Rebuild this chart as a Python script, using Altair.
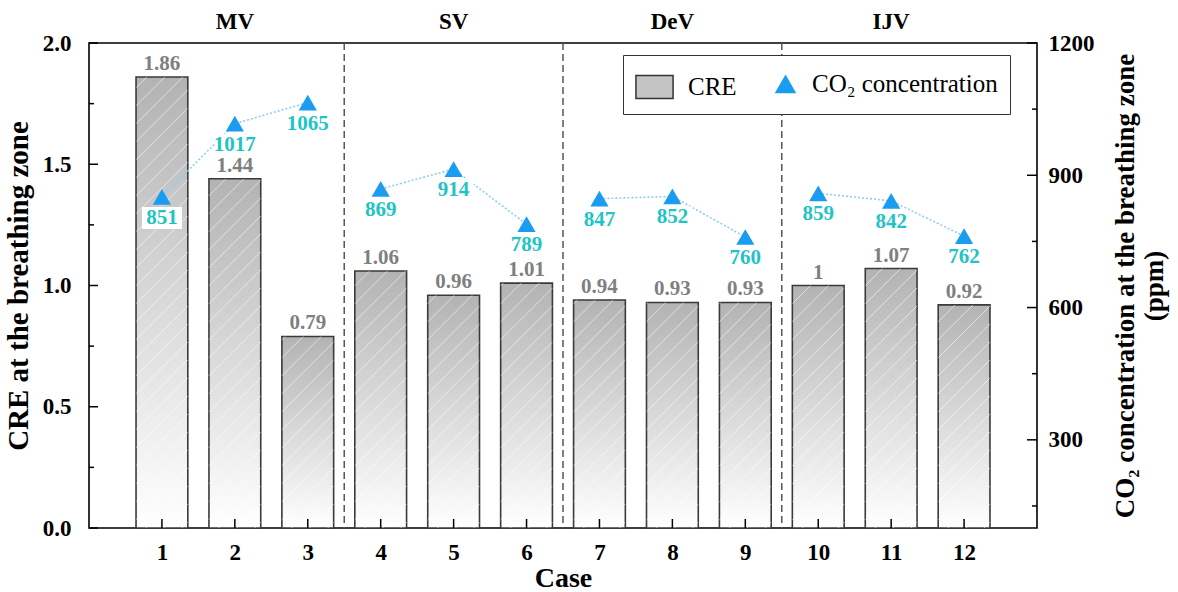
import altair as alt
import pandas as pd

# ---- data ----
cases = [1, 2, 3, 4, 5, 6, 7, 8, 9, 10, 11, 12]
groups = ["MV", "MV", "MV", "SV", "SV", "SV", "DeV", "DeV", "DeV", "IJV", "IJV", "IJV"]
cre = [1.86, 1.44, 0.79, 1.06, 0.96, 1.01, 0.94, 0.93, 0.93, 1, 1.07, 0.92]
co2 = [851, 1017, 1065, 869, 914, 789, 847, 852, 760, 859, 842, 762]

group_names = ["MV", "SV", "DeV", "IJV"]
group_centers = [2, 5, 8, 11]
separators = [3.5, 6.5, 9.5]

left_major = [0, 0.5, 1.0, 1.5, 2.0]
left_minor = [0.25, 0.75, 1.25, 1.75]
right_major = [300, 600, 900, 1200]
right_minor = [150, 450, 750, 1050]

series = ["CRE", "CO₂ concentration"]

# ---- layout ----
W, H = 948, 485
X_DOM = [0, 13]
Y_DOM = [0, 2]
CO2_DOM = [100, 1200]
PX_X = W / (X_DOM[1] - X_DOM[0])
PX_Y = H / (Y_DOM[1] - Y_DOM[0])
HALF = 0.355
HATCH_STEP = 18
FONT = "Liberation Serif"

df = pd.DataFrame({"case": cases, "group": groups, "cre": cre, "co2": co2})

x_scale = alt.Scale(domain=X_DOM, nice=False, zero=False)
y_scale = alt.Scale(domain=Y_DOM, nice=False)
c_scale = alt.Scale(domain=CO2_DOM, nice=False, zero=False)

x_axis = alt.Axis(values=cases, title="Case", labelPadding=13, titlePadding=0,
                  labelFontSize=23, format="d")

base = alt.Chart(df)

gradient = alt.Gradient(
    gradient="linear",
    stops=[alt.GradientStop(color="#b3b3b3", offset=0),
           alt.GradientStop(color="#ffffff", offset=1)],
    x1=0, x2=0, y1=0, y2=1,
)

bars = base.transform_calculate(
    x0=f"datum.case - {HALF}", x1=f"datum.case + {HALF}", zero="0"
).mark_rect(fill=gradient, stroke="#3a3a3a", strokeWidth=1.6).encode(
    x=alt.X("x0:Q", scale=x_scale, axis=x_axis),
    x2="x1:Q",
    y=alt.Y("cre:Q", scale=y_scale,
            axis=alt.Axis(values=left_major, format=".1f", orient="left",
                          title="CRE at the breathing zone",
                          labelPadding=18, titlePadding=9, titleFontSize=29)),
    y2="zero:Q",
)

# diagonal hatch inside each bar, built from the bar heights
bw = 2 * HALF * PX_X
hatch = base.transform_calculate(
    hh=f"datum.cre * {PX_Y}",
).transform_calculate(
    ks=f"sequence({-bw + 6}, datum.hh, {HATCH_STEP})"
).transform_flatten(["ks"], as_=["k"]).transform_calculate(
    u0="max(0, -datum.k)",
    u1=f"min({bw}, datum.hh - datum.k)",
).transform_filter("datum.u1 > datum.u0 + 1").transform_calculate(
    xa=f"datum.case - {HALF} + datum.u0 / {PX_X}",
    xb=f"datum.case - {HALF} + datum.u1 / {PX_X}",
    ya=f"(datum.u0 + datum.k) / {PX_Y}",
    yb=f"(datum.u1 + datum.k) / {PX_Y}",
).mark_rule(color="white", strokeWidth=1, opacity=0.55).encode(
    x=alt.X("xa:Q", scale=x_scale), x2="xb:Q",
    y=alt.Y("ya:Q", scale=y_scale), y2="yb:Q",
)

bar_labels = base.mark_text(
    baseline="bottom", dy=-3, color="#7f7f7f", font=FONT,
    fontSize=21, fontWeight="bold",
).encode(
    x=alt.X("case:Q", scale=x_scale),
    y=alt.Y("cre:Q", scale=y_scale),
    text=alt.Text("cre:Q"),
)

sep = alt.Chart(pd.DataFrame({"s": separators})).mark_rule(
    color="#555555", strokeDash=[7, 4], strokeWidth=1.5
).encode(x=alt.X("s:Q", scale=x_scale), y=alt.value(0), y2=alt.value(H))

group_text = alt.Chart(pd.DataFrame({"g": group_names, "c": group_centers})).mark_text(
    font=FONT, fontSize=23, fontWeight="bold", color="black", baseline="middle"
).encode(x=alt.X("c:Q", scale=x_scale), y=alt.value(-21), text="g:N")

bottom_ticks = alt.Chart(pd.DataFrame({"t": cases})).mark_rule(
    color="black", strokeWidth=1.5
).encode(x=alt.X("t:Q", scale=x_scale), y=alt.value(H), y2=alt.value(H - 9))

left_major_ticks = alt.Chart(pd.DataFrame({"t": left_major})).mark_rule(
    color="black", strokeWidth=1.5
).encode(y=alt.Y("t:Q", scale=y_scale), x=alt.value(0), x2=alt.value(9))

left_minor_ticks = alt.Chart(pd.DataFrame({"t": left_minor})).mark_rule(
    color="black", strokeWidth=1.5
).encode(y=alt.Y("t:Q", scale=y_scale), x=alt.value(0), x2=alt.value(5))

left_group = alt.layer(sep, bars, hatch, bar_labels, group_text, bottom_ticks,
                       left_major_ticks, left_minor_ticks)

# ---- CO2 series on the right axis ----
co2_line = base.mark_line(
    color="#8ccdf5", strokeDash=[2, 2], strokeWidth=1.6
).encode(
    x=alt.X("case:Q", scale=x_scale),
    y=alt.Y("co2:Q", scale=c_scale,
            axis=alt.Axis(values=right_major, orient="right", format="d",
                          title=["CO₂ concentration at the breathing zone", "(ppm)"],
                          titleAngle=270, titleFontSize=27,
                          labelPadding=11, titlePadding=16)),
    detail="group:N",
)

label_boxes = base.mark_point(
    shape="M-1,-0.55H1V0.55H-1Z", filled=True, fill="white", opacity=1,
    strokeWidth=0, size=1600, yOffset=21,
).encode(x=alt.X("case:Q", scale=x_scale), y=alt.Y("co2:Q", scale=c_scale))

co2_points = base.mark_point(
    shape="triangle-up", filled=True, color="#1a9cf0", opacity=1, size=330
).encode(x=alt.X("case:Q", scale=x_scale), y=alt.Y("co2:Q", scale=c_scale))

co2_labels = base.mark_text(
    baseline="middle", dy=21, color="#1fc4c4", font=FONT,
    fontSize=21, fontWeight="bold",
).encode(
    x=alt.X("case:Q", scale=x_scale),
    y=alt.Y("co2:Q", scale=c_scale),
    text=alt.Text("co2:Q"),
)

right_major_ticks = alt.Chart(pd.DataFrame({"t": right_major})).mark_rule(
    color="black", strokeWidth=1.5
).encode(y=alt.Y("t:Q", scale=c_scale), x=alt.value(W - 10), x2=alt.value(W))

right_minor_ticks = alt.Chart(pd.DataFrame({"t": right_minor})).mark_rule(
    color="black", strokeWidth=1.5
).encode(y=alt.Y("t:Q", scale=c_scale), x=alt.value(W - 5), x2=alt.value(W))

# legend built from the series scales (no marks drawn by this layer)
legend_keys = alt.Chart(pd.DataFrame({"series": series})).transform_filter(
    "false"
).mark_point(filled=True, opacity=1).encode(
    fill=alt.Fill("series:N", scale=alt.Scale(domain=series, range=["#c4c4c4", "#1a9cf0"]),
                  legend=alt.Legend(
                      title=None, orient="none", legendX=534, legendY=12,
                      direction="horizontal", strokeColor="#333333",
                      fillColor="white", padding=12, columnPadding=36,
                      labelFont=FONT, labelFontSize=25, labelFontWeight="normal",
                      labelColor="black", labelOffset=14, labelLimit=400,
                      symbolOpacity=1, symbolStrokeWidth=1.5,
                  )),
    shape=alt.Shape("series:N", scale=alt.Scale(domain=series,
                                                 range=["M-1,-0.62H1V0.62H-1Z", "triangle-up"])),
    size=alt.Size("series:N", scale=alt.Scale(domain=series, range=[1380, 360])),
    stroke=alt.Stroke("series:N", scale=alt.Scale(domain=series, range=["#333333", "#1a9cf0"])),
)

right_group = alt.layer(co2_line, label_boxes, co2_points, co2_labels,
                        right_major_ticks, right_minor_ticks, legend_keys)

chart = alt.layer(left_group, right_group).resolve_scale(y="independent").properties(
    width=W, height=H,
    autosize=alt.AutoSizeParams(type="none"),
    padding={"left": 89, "top": 43, "right": 141, "bottom": 64},
).configure_view(
    stroke="black", strokeWidth=1.6
).configure_axis(
    labelFont=FONT, labelFontWeight="bold", labelFontSize=23, labelColor="black",
    titleFont=FONT, titleFontWeight="bold", titleFontSize=28, titleColor="black",
    ticks=False, domain=False, grid=False,
)

chart.save("out.html", embed_options={"renderer": "svg", "actions": False})
